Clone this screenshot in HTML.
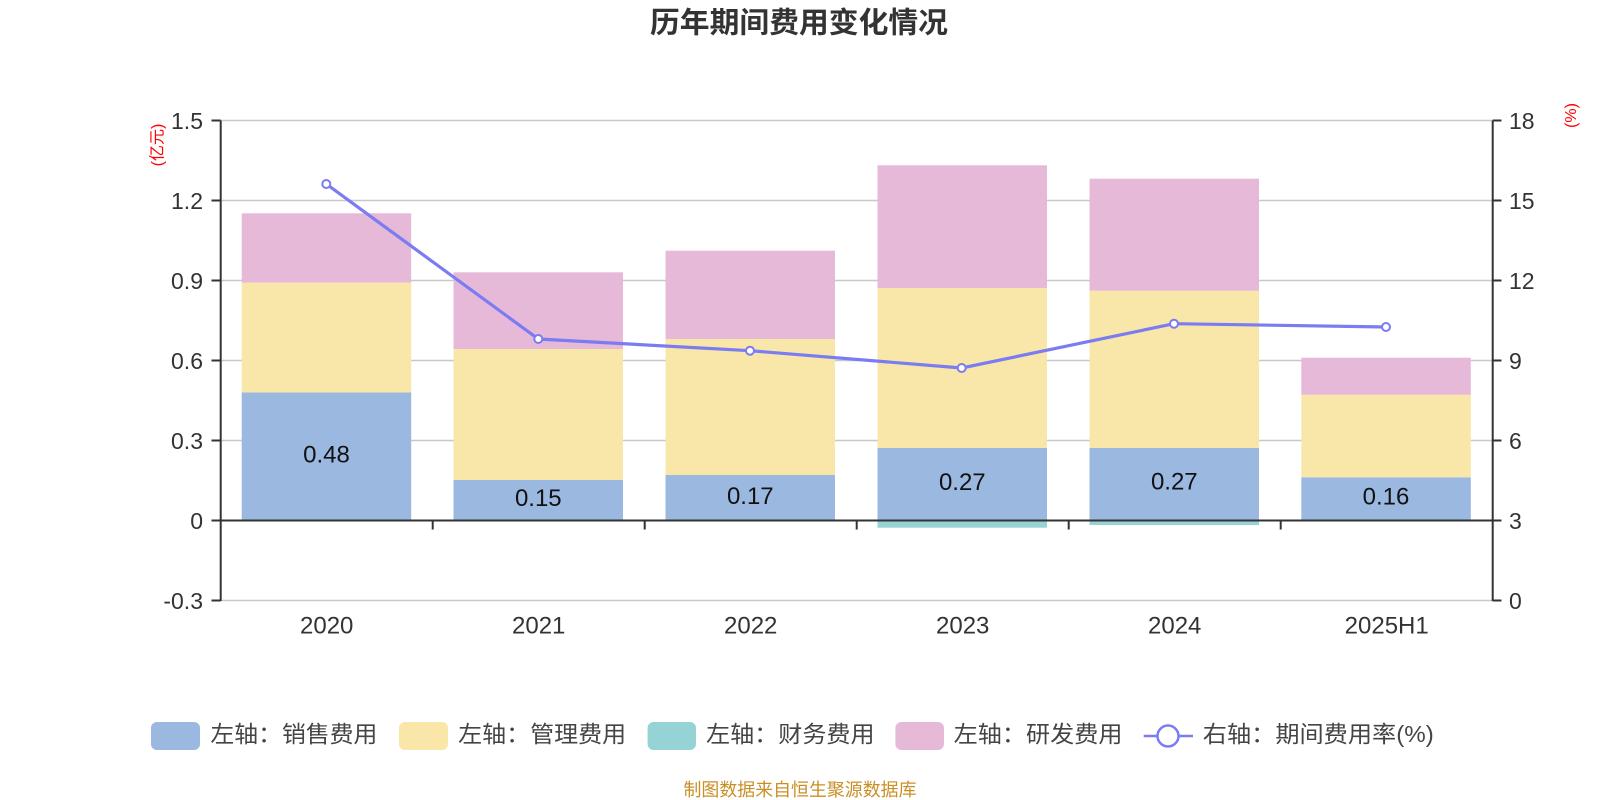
<!DOCTYPE html>
<html><head><meta charset="utf-8"><style>
html,body{margin:0;padding:0;background:#fff;}
svg{display:block;}
text{font-family:"Liberation Sans","Noto Sans CJK SC",sans-serif;}
</style></head><body>
<svg width="1600" height="800" viewBox="0 0 1600 800" xmlns="http://www.w3.org/2000/svg">
<rect width="1600" height="800" fill="#fff"/>
<text x="799" y="23.5" text-anchor="middle" dominant-baseline="central" font-size="29" font-weight="bold" fill="#333" textLength="298" lengthAdjust="spacingAndGlyphs">历年期间费用变化情况</text>
<g stroke="#c8c8c8" stroke-width="1.5">
<line x1="221" y1="120.5" x2="1493" y2="120.5"/>
<line x1="221" y1="200.5" x2="1493" y2="200.5"/>
<line x1="221" y1="280.5" x2="1493" y2="280.5"/>
<line x1="221" y1="360.5" x2="1493" y2="360.5"/>
<line x1="221" y1="440.5" x2="1493" y2="440.5"/>
<line x1="221" y1="600.5" x2="1493" y2="600.5"/>
</g>
<g>
<rect x="241.7" y="392.5" width="169.5" height="128" fill="#9bb8e1"/>
<rect x="241.7" y="282.6" width="169.5" height="109.9" fill="#f8e7a9"/>
<rect x="241.7" y="213.3" width="169.5" height="69.3" fill="#e7b9d8"/>
<rect x="453.5" y="480" width="169.5" height="40.5" fill="#9bb8e1"/>
<rect x="453.5" y="349" width="169.5" height="131" fill="#f8e7a9"/>
<rect x="453.5" y="272.3" width="169.5" height="76.7" fill="#e7b9d8"/>
<rect x="665.5" y="475" width="169.5" height="45.5" fill="#9bb8e1"/>
<rect x="665.5" y="339" width="169.5" height="136" fill="#f8e7a9"/>
<rect x="665.5" y="250.7" width="169.5" height="88.3" fill="#e7b9d8"/>
<rect x="877.5" y="448" width="169.5" height="72.5" fill="#9bb8e1"/>
<rect x="877.5" y="288" width="169.5" height="160" fill="#f8e7a9"/>
<rect x="877.5" y="165.3" width="169.5" height="122.7" fill="#e7b9d8"/>
<rect x="877.5" y="520.5" width="169.5" height="7.2" fill="#96d3d4"/>
<rect x="1089.5" y="448" width="169.5" height="72.5" fill="#9bb8e1"/>
<rect x="1089.5" y="290.7" width="169.5" height="157.3" fill="#f8e7a9"/>
<rect x="1089.5" y="178.7" width="169.5" height="112" fill="#e7b9d8"/>
<rect x="1089.5" y="520.5" width="169.5" height="4.5" fill="#96d3d4"/>
<rect x="1301.3" y="477.3" width="169.5" height="43.2" fill="#9bb8e1"/>
<rect x="1301.3" y="394.7" width="169.5" height="82.6" fill="#f8e7a9"/>
<rect x="1301.3" y="357.7" width="169.5" height="37" fill="#e7b9d8"/>
</g>
<g font-size="24" fill="#111" text-anchor="middle">
<text x="326.5" y="462.5">0.48</text>
<text x="538.3" y="506">0.15</text>
<text x="750.3" y="503.8">0.17</text>
<text x="962.3" y="490">0.27</text>
<text x="1174.3" y="489.5">0.27</text>
<text x="1386" y="504.3">0.16</text>
</g>
<g stroke="#333" stroke-width="2" fill="none">
<line x1="220.7" y1="120.5" x2="220.7" y2="601"/>
<line x1="1492.7" y1="120.5" x2="1492.7" y2="601"/>
<line x1="220" y1="520.5" x2="1493.5" y2="520.5"/>
<line x1="211.5" y1="120.5" x2="220.7" y2="120.5"/>
<line x1="211.5" y1="200.5" x2="220.7" y2="200.5"/>
<line x1="211.5" y1="280.5" x2="220.7" y2="280.5"/>
<line x1="211.5" y1="360.5" x2="220.7" y2="360.5"/>
<line x1="211.5" y1="440.5" x2="220.7" y2="440.5"/>
<line x1="211.5" y1="520.5" x2="220.7" y2="520.5"/>
<line x1="211.5" y1="600.5" x2="220.7" y2="600.5"/>
<line x1="1492.7" y1="120.5" x2="1501.5" y2="120.5"/>
<line x1="1492.7" y1="200.5" x2="1501.5" y2="200.5"/>
<line x1="1492.7" y1="280.5" x2="1501.5" y2="280.5"/>
<line x1="1492.7" y1="360.5" x2="1501.5" y2="360.5"/>
<line x1="1492.7" y1="440.5" x2="1501.5" y2="440.5"/>
<line x1="1492.7" y1="520.5" x2="1501.5" y2="520.5"/>
<line x1="1492.7" y1="600.5" x2="1501.5" y2="600.5"/>
<line x1="432.7" y1="520.5" x2="432.7" y2="529.5"/>
<line x1="644.7" y1="520.5" x2="644.7" y2="529.5"/>
<line x1="856.7" y1="520.5" x2="856.7" y2="529.5"/>
<line x1="1068.7" y1="520.5" x2="1068.7" y2="529.5"/>
<line x1="1280.7" y1="520.5" x2="1280.7" y2="529.5"/>
</g>
<g font-size="23" fill="#333" text-anchor="end">
<text x="203" y="128.8">1.5</text>
<text x="203" y="208.8">1.2</text>
<text x="203" y="288.8">0.9</text>
<text x="203" y="368.8">0.6</text>
<text x="203" y="448.8">0.3</text>
<text x="203" y="528.8">0</text>
<text x="203" y="608.8">-0.3</text>
</g>
<g font-size="23" fill="#333" text-anchor="start">
<text x="1509" y="128.8">18</text>
<text x="1509" y="208.8">15</text>
<text x="1509" y="288.8">12</text>
<text x="1509" y="368.8">9</text>
<text x="1509" y="448.8">6</text>
<text x="1509" y="528.8">3</text>
<text x="1509" y="608.8">0</text>
</g>
<g font-size="24" fill="#333" text-anchor="middle">
<text x="326.7" y="633.5">2020</text>
<text x="538.7" y="633.5">2021</text>
<text x="750.7" y="633.5">2022</text>
<text x="962.7" y="633.5">2023</text>
<text x="1174.7" y="633.5">2024</text>
<text x="1386.7" y="633.5">2025H1</text>
</g>
<text transform="translate(158,145) rotate(-90)" text-anchor="middle" dominant-baseline="central" font-size="16" fill="#ff0000">(亿元)</text>
<text transform="translate(1571.5,115.5) rotate(-90)" text-anchor="middle" dominant-baseline="central" font-size="16" fill="#ff0000">(%)</text>
<polyline points="326.3,184 538.3,339 750,350.7 961.7,368 1174,323.7 1386,327" fill="none" stroke="#7b7bf2" stroke-width="3.2" stroke-linejoin="round"/>
<g fill="#fff" stroke="#7b7bf2" stroke-width="2">
<circle cx="326.3" cy="184" r="4"/>
<circle cx="538.3" cy="339" r="4"/>
<circle cx="750" cy="350.7" r="4"/>
<circle cx="961.7" cy="368" r="4"/>
<circle cx="1174" cy="323.7" r="4"/>
<circle cx="1386" cy="327" r="4"/>
</g>
<rect x="151" y="722" width="49" height="28" rx="6" fill="#9bb8e1"/>
<rect x="399" y="722" width="49" height="28" rx="6" fill="#f8e7a9"/>
<rect x="647.6" y="722" width="48.4" height="28" rx="6" fill="#96d3d4"/>
<rect x="895.4" y="722" width="48.6" height="28" rx="6" fill="#e7b9d8"/>
<line x1="1143.7" y1="736" x2="1193" y2="736" stroke="#7b7bf2" stroke-width="2.5"/>
<circle cx="1168" cy="736" r="10.5" fill="#fff" stroke="#7b7bf2" stroke-width="2.5"/>
<g font-size="23" fill="#444" dominant-baseline="central">
<text x="210.4" y="734" textLength="167" lengthAdjust="spacingAndGlyphs">左轴：销售费用</text>
<text x="458.2" y="734" textLength="168" lengthAdjust="spacingAndGlyphs">左轴：管理费用</text>
<text x="706" y="734" textLength="168.6" lengthAdjust="spacingAndGlyphs">左轴：财务费用</text>
<text x="953.7" y="734" textLength="168.8" lengthAdjust="spacingAndGlyphs">左轴：研发费用</text>
<text x="1202.8" y="734" textLength="231" lengthAdjust="spacingAndGlyphs">右轴：期间费用率(%)</text>
</g>
<text x="800" y="790" text-anchor="middle" dominant-baseline="central" font-size="18" fill="#c98f24" textLength="233" lengthAdjust="spacingAndGlyphs">制图数据来自恒生聚源数据库</text>
</svg>
</body></html>
